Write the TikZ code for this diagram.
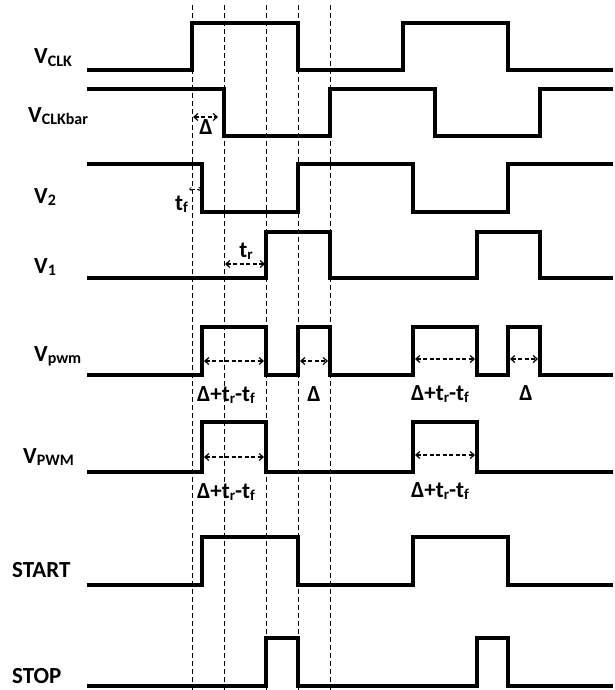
\documentclass[tikz,border=0pt]{standalone}
\usepackage{fontspec}
\setmainfont{Carlito}
\usetikzlibrary{arrows.meta}
\newcommand{\mysub}[1]{\raisebox{-2.5pt}{\fontsize{16}{16}\selectfont #1}}
\newcommand{\tsub}[1]{\raisebox{-2.5pt}{\fontsize{15}{15}\selectfont #1}}
\begin{document}
\begin{tikzpicture}[x=1pt,y=-1pt,
  wave/.style={line width=4.2pt,line join=miter,line cap=butt},
  guide/.style={line width=0.9pt,dash pattern=on 5pt off 3pt},
  dim/.style={line width=1.2pt,dash pattern=on 4pt off 2.5pt,{Straight Barb[length=4pt,width=7pt]}-{Straight Barb[length=4pt,width=7pt]}},
  smalldim/.style={line width=0.7pt,dash pattern=on 2pt off 1.5pt,{Straight Barb[length=2pt,width=4pt]}-{Straight Barb[length=2pt,width=4pt]}},
  lab/.style={anchor=base west,inner sep=0pt,font=\fontsize{23}{23}\selectfont\bfseries},
  ann/.style={anchor=base,inner sep=0pt,font=\fontsize{23}{23}\selectfont\bfseries}]
\useasboundingbox (0,0) rectangle (615,690);
% guide lines
\foreach \x in {192,224,266,298,330} \draw[guide] (\x,5) -- (\x,690);
% waveforms
\draw[wave] (87,70) -- (192,70) -- (192,23) -- (298,23) -- (298,70) -- (403,70) -- (403,23) -- (508,23) -- (508,70) -- (613,70);
\draw[wave] (87,89) -- (224,89) -- (224,136) -- (330,136) -- (330,89) -- (435,89) -- (435,136) -- (540,136) -- (540,89) -- (613,89);
\draw[wave] (87,164) -- (202,164) -- (202,212) -- (298,212) -- (298,164) -- (413,164) -- (413,212) -- (508,212) -- (508,164) -- (613,164);
\draw[wave] (87,278) -- (266,278) -- (266,232) -- (330,232) -- (330,278) -- (477,278) -- (477,232) -- (540,232) -- (540,278) -- (613,278);
\draw[wave] (87,375) -- (202,375) -- (202,327) -- (266,327) -- (266,375) -- (298,375) -- (298,327) -- (330,327) -- (330,375) -- (413,375) -- (413,327) -- (477,327) -- (477,375) -- (508,375) -- (508,327) -- (540,327) -- (540,375) -- (613,375);
\draw[wave] (87,472) -- (202,472) -- (202,422) -- (266,422) -- (266,472) -- (413,472) -- (413,422) -- (477,422) -- (477,472) -- (613,472);
\draw[wave] (87,585) -- (202,585) -- (202,537) -- (298,537) -- (298,585) -- (413,585) -- (413,537) -- (508,537) -- (508,585) -- (613,585);
\draw[wave] (87,686) -- (266,686) -- (266,638) -- (298,638) -- (298,686) -- (477,686) -- (477,638) -- (508,638) -- (508,686) -- (613,686);
% signal labels
\node[lab] (lclk) at (34,64) {V\mysub{CLK}};
\node[lab] (lclkb) at (28,122) {V\mysub{CLKbar}};
\node[lab] (lv2) at (34,203) {V\mysub{2}};
\node[lab] (lv1) at (34,273) {V\mysub{1}};
\node[lab] (lpwm) at (34,361) {V\mysub{pwm}};
\node[lab] (lPWM) at (23,463) {V\mysub{PWM}};
\node[lab] (lstart) at (12,577) {START};
\node[lab] (lstop) at (12,683) {STOP};
% dimension arrows
\coordinate (d1a) at (193,117); \coordinate (d1b) at (218,117);
\draw[dim] (d1a) -- (d1b);
\node[ann] (dl1) at (206,134) {Δ};
\coordinate (fa) at (189,189); \coordinate (fb) at (201,189);
\draw[smalldim] (fa) -- (fb);
\node[ann,anchor=base west] (tf) at (175,210) {t\tsub{f}};
\coordinate (ra) at (225,264); \coordinate (rb) at (265,264);
\draw[dim] (ra) -- (rb);
\node[ann] (tr) at (246,257) {t\tsub{r}};
\draw[dim] (204,361) -- (264,361);
\draw[dim] (300,361) -- (328,361);
\draw[dim] (415,359) -- (475,359);
\draw[dim] (510,359) -- (538,359);
\draw[dim] (204,457) -- (264,457);
\draw[dim] (415,455) -- (475,455);
\node[ann] (a1) at (226,401) {Δ+t\tsub{r}-t\tsub{f}};
\node[ann] (a2) at (314,401) {Δ};
\node[ann] (a3) at (440,400) {Δ+t\tsub{r}-t\tsub{f}};
\node[ann] (a4) at (526,400) {Δ};
\node[ann] (a5) at (226,498) {Δ+t\tsub{r}-t\tsub{f}};
\node[ann] (a6) at (440,497) {Δ+t\tsub{r}-t\tsub{f}};
\end{tikzpicture}
\end{document}
